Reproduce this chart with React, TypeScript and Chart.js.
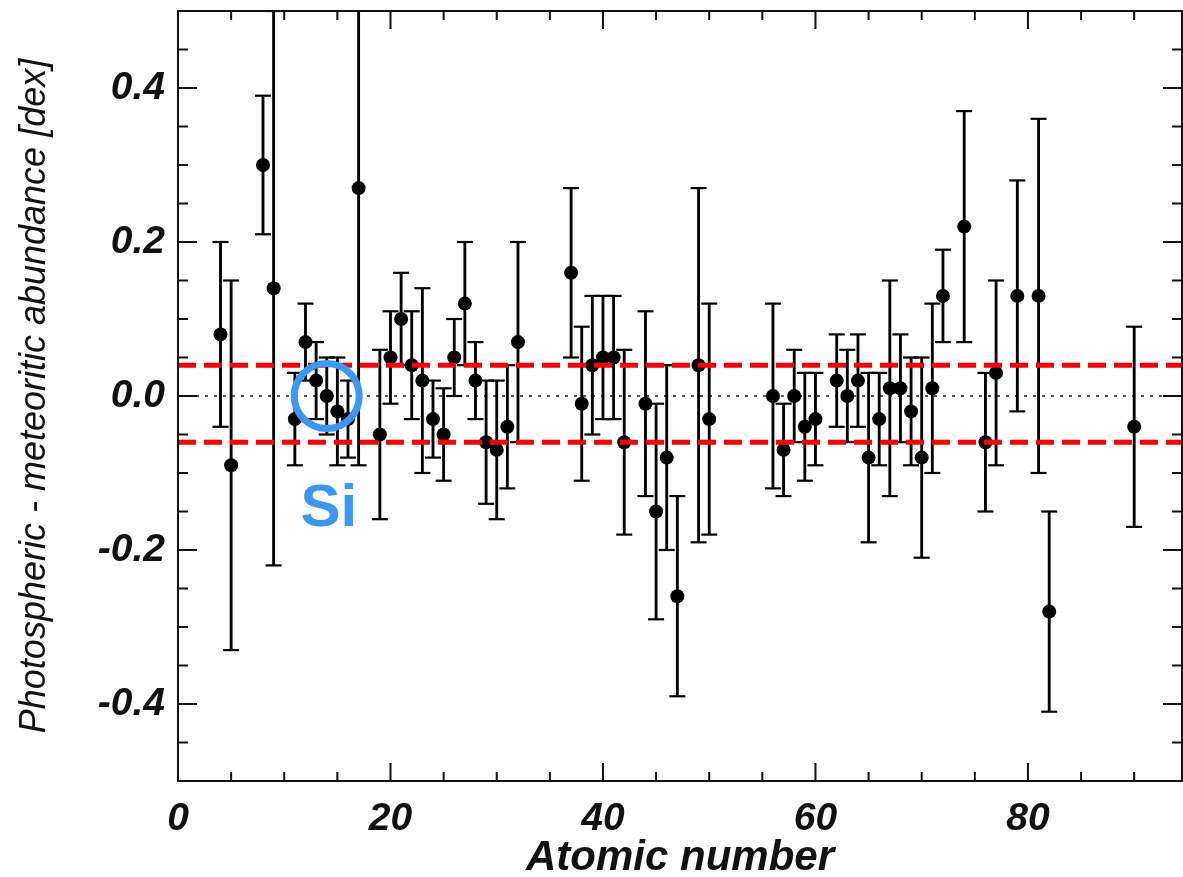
import React, { useEffect, useRef } from 'react';
import { Chart, registerables } from 'chart.js';

Chart.register(...registerables);

// ---- data ----
const atomicNumbers = [
  4, 5, 8, 9, 11, 12, 13, 14, 15, 16, 17, 19, 20, 21, 22, 23, 24, 25, 26, 27, 28, 29, 30, 31, 32,
  37, 38, 39, 40, 41, 42, 44, 45, 46, 47, 49, 50,
  56, 57, 58, 59, 60, 62, 63, 64, 65, 66, 67, 68, 69, 70, 71, 72, 74, 76, 77, 79, 81, 82, 90,
];
const abundanceDiff = [
  0.08, -0.09, 0.30, 0.14, -0.03, 0.07, 0.02, 0.00, -0.02, -0.03, 0.27, -0.05, 0.05, 0.10, 0.04, 0.02, -0.03, -0.05, 0.05, 0.12, 0.02, -0.06, -0.07, -0.04, 0.07,
  0.16, -0.01, 0.04, 0.05, 0.05, -0.06, -0.01, -0.15, -0.08, -0.26, 0.04, -0.03,
  0.00, -0.07, 0.00, -0.04, -0.03, 0.02, 0.00, 0.02, -0.08, -0.03, 0.01, 0.01, -0.02, -0.08, 0.01, 0.13, 0.22, -0.06, 0.03, 0.13, 0.13, -0.28, -0.04,
];
const diffError = [
  0.12, 0.24, 0.09, 0.36, 0.06, 0.05, 0.05, 0.05, 0.07, 0.05, 0.36, 0.11, 0.06, 0.06, 0.07, 0.12, 0.05, 0.06, 0.05, 0.08, 0.05, 0.08, 0.09, 0.08, 0.13,
  0.11, 0.10, 0.09, 0.08, 0.08, 0.12, 0.12, 0.14, 0.12, 0.13, 0.23, 0.15,
  0.12, 0.06, 0.06, 0.07, 0.06, 0.06, 0.06, 0.06, 0.11, 0.06, 0.14, 0.07, 0.07, 0.13, 0.11, 0.06, 0.15, 0.09, 0.12, 0.15, 0.23, 0.13, 0.13,
];
const xTickValues = [0, 20, 40, 60, 80];
const yTickValues = [-0.4, -0.2, 0, 0.2, 0.4];
const xLimits = [0, 94.5];
const yLimits = [-0.5, 0.5];
const referenceLevel = 0;
const bandLevels = [0.04, -0.06];
const highlightZ = 14;
const highlightLabel = 'Si';
const xTitle = 'Atomic number';
const yTitle = 'Photospheric - meteoritic abundance [dex]';

const FONT = '"Liberation Sans", Arial, Helvetica, sans-serif';

export default function App() {
  const ref = useRef<HTMLCanvasElement | null>(null);

  useEffect(() => {
    document.body.style.margin = '0';
    const canvas = ref.current;
    if (!canvas) return;

    const points = atomicNumbers.map((z, i) => ({ x: z, y: abundanceDiff[i] }));
    const bars = atomicNumbers.map((z, i) => ({
      x: z,
      y: [abundanceDiff[i] - diffError[i], abundanceDiff[i] + diffError[i]],
    }));
    const lowCaps = atomicNumbers.map((z, i) => ({ x: z, y: abundanceDiff[i] - diffError[i] }));
    const highCaps = atomicNumbers.map((z, i) => ({ x: z, y: abundanceDiff[i] + diffError[i] }));
    const hIdx = atomicNumbers.indexOf(highlightZ);
    const highlight = [{ x: highlightZ, y: abundanceDiff[hIdx] }];
    const hLine = (v: number) => [
      { x: xLimits[0], y: v },
      { x: xLimits[1], y: v },
    ];

    const framePlugin = {
      id: 'idlFrame',
      afterDraw(chart: any) {
        const { ctx, chartArea: a, scales } = chart;
        const xs = scales.x;
        const ys = scales.y;
        ctx.save();
        ctx.strokeStyle = '#111';
        ctx.lineWidth = 2;
        ctx.beginPath();
        for (let k = 0; k * 5 <= xLimits[1] + 1e-9; k++) {
          const v = k * 5;
          const px = xs.getPixelForValue(v);
          const len = k % 4 === 0 ? 18 : 9;
          ctx.moveTo(px, a.bottom);
          ctx.lineTo(px, a.bottom - len);
          ctx.moveTo(px, a.top);
          ctx.lineTo(px, a.top + len);
        }
        for (let k = -10; k <= 10; k++) {
          const v = k * 0.05;
          const py = ys.getPixelForValue(v);
          const len = k % 4 === 0 ? 19 : 10;
          ctx.moveTo(a.left, py);
          ctx.lineTo(a.left + len, py);
          ctx.moveTo(a.right, py);
          ctx.lineTo(a.right - len, py);
        }
        ctx.stroke();
        ctx.strokeRect(a.left, a.top, a.right - a.left, a.bottom - a.top);

        // highlight label
        const px = xs.getPixelForValue(highlightZ);
        const py = ys.getPixelForValue(abundanceDiff[hIdx]);
        ctx.fillStyle = '#3a97f6';
        ctx.font = `bold 60px ${FONT}`;
        ctx.textAlign = 'center';
        ctx.textBaseline = 'alphabetic';
        ctx.fillText(highlightLabel, px + 2, py + 130);
        ctx.restore();
      },
    };

    const chart = new Chart(canvas, {
      type: 'scatter',
      data: {
        datasets: [
          {
            type: 'scatter',
            label: 'highlight',
            data: highlight,
            pointStyle: 'circle',
            pointRadius: 32.5,
            borderWidth: 7,
            borderColor: '#3a97f6',
            backgroundColor: 'rgba(0,0,0,0)',
            order: 0,
          } as any,
          {
            type: 'line',
            label: 'upper',
            data: hLine(bandLevels[0]),
            borderColor: '#ff0000',
            borderWidth: 5,
            borderDash: [18, 8],
            pointRadius: 0,
            fill: false,
            order: 1,
          } as any,
          {
            type: 'line',
            label: 'lower',
            data: hLine(bandLevels[1]),
            borderColor: '#ff0000',
            borderWidth: 5,
            borderDash: [18, 8],
            pointRadius: 0,
            fill: false,
            order: 1,
          } as any,
          {
            type: 'scatter',
            label: 'diff',
            data: points,
            pointStyle: 'circle',
            pointRadius: 7,
            borderWidth: 0,
            backgroundColor: '#000',
            order: 2,
          } as any,
          {
            type: 'scatter',
            label: 'lowcap',
            data: lowCaps,
            pointStyle: 'line',
            pointRadius: 8,
            borderWidth: 2.2,
            borderColor: '#000',
            order: 3,
          } as any,
          {
            type: 'scatter',
            label: 'highcap',
            data: highCaps,
            pointStyle: 'line',
            pointRadius: 8,
            borderWidth: 2.2,
            borderColor: '#000',
            order: 3,
          } as any,
          {
            type: 'bar',
            label: 'err',
            data: bars,
            backgroundColor: '#000',
            borderWidth: 0,
            barThickness: 2.2,
            grouped: false,
            order: 4,
          } as any,
          {
            type: 'line',
            label: 'zero',
            data: hLine(referenceLevel),
            borderColor: '#222',
            borderWidth: 1.5,
            borderDash: [3, 6],
            pointRadius: 0,
            fill: false,
            order: 5,
          } as any,
        ],
      },
      options: {
        responsive: false,
        animation: false,
        events: [],
        layout: { autoPadding: false, padding: { top: 11, right: 1, left: 0, bottom: 0 } },
        plugins: { legend: { display: false }, tooltip: { enabled: false }, title: { display: false } },
        scales: {
          x: {
            type: 'linear',
            min: xLimits[0],
            max: xLimits[1],
            offset: false,
            grid: { display: false, drawTicks: false },
            border: { display: false },
            afterBuildTicks: (s: any) => {
              s.ticks = xTickValues.map((v) => ({ value: v }));
            },
            afterFit: (s: any) => {
              s.height = 96;
              s.paddingLeft = 0;
              s.paddingRight = 0;
            },
            ticks: {
              autoSkip: false,
              maxRotation: 0,
              padding: 15,
              color: '#111',
              font: { family: FONT, size: 39, style: 'italic', weight: 'bold' },
              callback: (v: any) => String(v),
            },
            title: {
              display: true,
              text: xTitle,
              color: '#111',
              font: { family: FONT, size: 42, style: 'italic', weight: 'bold', lineHeight: 0.9 },
              padding: { top: 0, bottom: 0 },
            },
          },
          y: {
            type: 'linear',
            min: yLimits[0],
            max: yLimits[1],
            grid: { display: false, drawTicks: false },
            border: { display: false },
            afterBuildTicks: (s: any) => {
              s.ticks = yTickValues.map((v) => ({ value: v }));
            },
            afterFit: (s: any) => {
              s.width = 178;
              s.paddingTop = 0;
              s.paddingBottom = 0;
            },
            ticks: {
              padding: 13,
              color: '#111',
              font: { family: FONT, size: 39, style: 'italic', weight: 'bold' },
              callback: (v: any) => Number(v).toFixed(1),
            },
            title: {
              display: true,
              text: yTitle,
              color: '#111',
              font: { family: FONT, size: 36, style: 'italic', weight: 'normal' },
              padding: { top: 13, bottom: 0 },
            },
          },
        },
      } as any,
      plugins: [framePlugin],
    });

    return () => chart.destroy();
  }, []);

  return (
    <div style={{ width: 1183, height: 877 }}>
      <canvas ref={ref} width={1183} height={877} style={{ display: 'block' }} />
    </div>
  );
}
